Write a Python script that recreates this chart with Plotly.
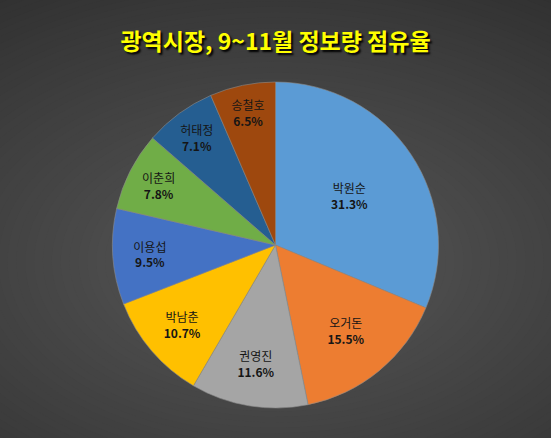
import plotly.graph_objects as go

# 후보별 정보량 점유율 (%)
후보 = ["박원순", "오거돈", "권영진", "박남춘", "이용섭", "이춘희", "허태정", "송철호"]
점유율 = [31.3, 15.5, 11.6, 10.7, 9.5, 7.8, 7.1, 6.5]
색상 = ["#5b9bd5", "#ed7d31", "#a5a5a5", "#ffc000", "#4472c4", "#70ad47", "#255e91", "#9e480e"]

W, H = 551, 438

fig = go.Figure(go.Pie(
    labels=후보,
    values=점유율,
    sort=False,
    direction="clockwise",
    rotation=0,
    marker=dict(colors=색상, line=dict(color="#8c8c8c", width=0.6)),
    texttemplate="%{label}<br><b>%{value:.1f}%</b>",
    textposition="inside",
    insidetextorientation="horizontal",
    textfont=dict(family="Noto Sans CJK KR", size=12, color="#151515"),
    hoverinfo="label+value",
    showlegend=False,
))

# 배경: 방사형 그라데이션 흉내 (동심 타원)
shapes = []
n = 60
for i in range(n):
    t = i / (n - 1)
    c = int(round(44 + (84 - 44) * t))
    s = 1.05 - 0.95 * t
    shapes.append(dict(
        type="circle", xref="paper", yref="paper",
        x0=0.5 - s, x1=0.5 + s, y0=0.45 - s * 1.05, y1=0.45 + s * 1.05,
        fillcolor=f"rgb({c},{c},{c})", line=dict(width=0), layer="below",
    ))

fig.update_layout(
    width=W, height=H,
    margin=dict(l=0, r=0, t=82, b=30),
    paper_bgcolor="#2e2e2e",
    plot_bgcolor="#2e2e2e",
    shapes=shapes,
    title=dict(
        text="<b>광역시장, 9~11월 정보량 점유율</b>",
        x=0.5, xanchor="center", y=0.905, yanchor="middle",
        font=dict(family="Noto Sans CJK KR", size=23, color="#ffff00",
                  shadow="2px 2px 2px #000000"),
    ),
)

# 페이지 기본 여백 제거, 모드바 숨김
fig.write_html("out.html", config={"displayModeBar": False},
               post_script="document.body.style.margin='0';")
